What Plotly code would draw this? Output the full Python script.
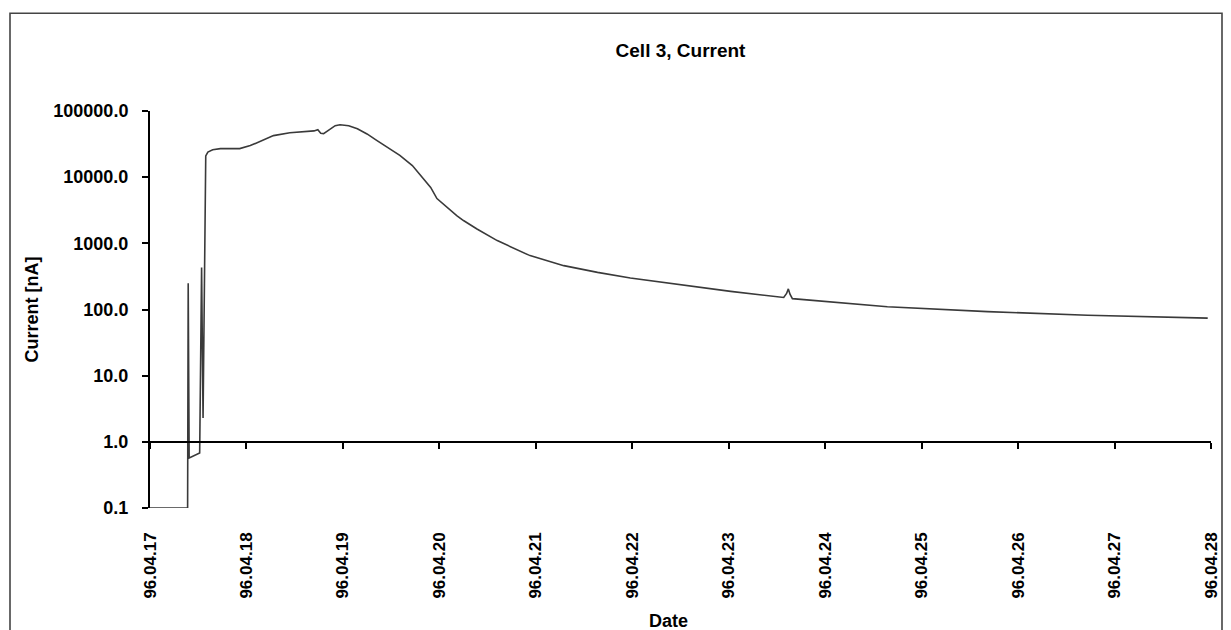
import pandas as pd
import plotly.graph_objects as go

# elapsed time in days after 96.04.17 00:00
days = [0.0, 0.390, 0.396, 0.406, 0.515, 0.535, 0.550, 0.578, 0.60, 0.65, 0.73, 0.93,
        1.04, 1.17, 1.28, 1.45, 1.70, 1.74, 1.77, 1.80, 1.86, 1.92, 1.97, 2.06, 2.15,
        2.25, 2.35, 2.47, 2.59, 2.72, 2.83, 2.91, 2.975, 3.08, 3.18, 3.25, 3.39, 3.60,
        3.94, 4.29, 4.64, 4.98, 5.32, 5.67, 6.02, 6.57, 6.60, 6.618, 6.635, 6.66, 7.0,
        7.645, 8.683, 9.721, 10.966]
current_nA = [0.1, 0.1, 250, 0.57, 0.68, 430, 2.3, 21000, 24000, 26000, 27000, 27000,
              30000, 36000, 42500, 47000, 50000, 52000, 46000, 45500, 52000, 60000, 62000,
              60000, 54000, 45000, 36000, 28000, 21300, 15000, 9600, 7000, 4750, 3450,
              2630, 2210, 1650, 1100, 652, 460, 364, 299, 257, 221, 188, 152, 175, 205,
              170, 146, 132, 110, 93, 82, 74]

start_date = "1996-04-17"
end_date = "1996-04-28"
tick_dates = pd.date_range(start_date, end_date, freq="D")
y_tickvals = [0.1, 1, 10, 100, 1000, 10000, 100000]
y_ticktext = ["0.1", "1.0", "10.0", "100.0", "1000.0", "10000.0", "100000.0"]

times = pd.Timestamp(start_date) + pd.to_timedelta(days, unit="D")

FONT = dict(family="Liberation Sans, Arial, sans-serif", color="black", weight="bold")

fig = go.Figure()
fig.add_trace(go.Scatter(x=times, y=current_nA, mode="lines",
                         line=dict(color="#3a3a3a", width=1.6), showlegend=False,
                         hoverinfo="x+y"))
# helper trace for the axis line drawn at y = 1.0
fig.add_trace(go.Scatter(x=[tick_dates[0], tick_dates[-1]], y=[1, 1], xaxis="x2",
                         mode="lines", line=dict(width=0), opacity=0,
                         showlegend=False, hoverinfo="skip"))

fig.update_layout(
    width=1231, height=630,
    margin=dict(l=150, r=20, t=111, b=122),
    paper_bgcolor="white", plot_bgcolor="white",
    title=dict(text="Cell 3, Current", x=0.5, xref="paper", xanchor="center",
               y=1 - 50 / 630, yref="container", yanchor="middle",
               font=dict(size=19, **FONT)),
    xaxis=dict(type="date", range=[tick_dates[0], tick_dates[-1]],
               tickvals=list(tick_dates), tickformat="%y.%m.%d", tickangle=-90,
               showline=False, ticks="", showgrid=False, zeroline=False,
               ticklabelstandoff=20, automargin=False,
               tickfont=dict(size=17, **FONT)),
    xaxis2=dict(type="date", overlaying="x", matches="x", anchor="free",
                position=1 / 6, side="bottom",
                tickvals=list(tick_dates), showticklabels=False,
                showline=True, linecolor="black", linewidth=2,
                ticks="outside", ticklen=6, tickwidth=2, tickcolor="black",
                showgrid=False, zeroline=False, automargin=False),
    yaxis=dict(type="log", range=[-1, 5], tickvals=y_tickvals, ticktext=y_ticktext,
               showline=True, linecolor="black", linewidth=2,
               ticks="outside", ticklen=6, tickwidth=2, tickcolor="black",
               showgrid=False, zeroline=False, ticklabelstandoff=10,
               automargin=False, tickfont=dict(size=18, **FONT)),
    shapes=[dict(type="rect", xref="paper", yref="paper",
                 x0=(10 - 150) / 1061, x1=(1222 - 150) / 1061,
                 y0=-0.45, y1=(507.7 - 13) / 397,
                 line=dict(color="#444444", width=1.6), layer="below")],
    annotations=[
        dict(text="Current [nA]", xref="paper", yref="paper",
             x=(31 - 150) / 1061, y=0.5, textangle=-90, showarrow=False,
             xanchor="center", yanchor="middle", font=dict(size=18, **FONT)),
        dict(text="Date", xref="paper", yref="paper",
             x=(668 - 150) / 1061, y=(507.7 - 621) / 397, showarrow=False,
             xanchor="center", yanchor="middle", font=dict(size=18, **FONT)),
    ],
)

fig.write_html("out.html")
